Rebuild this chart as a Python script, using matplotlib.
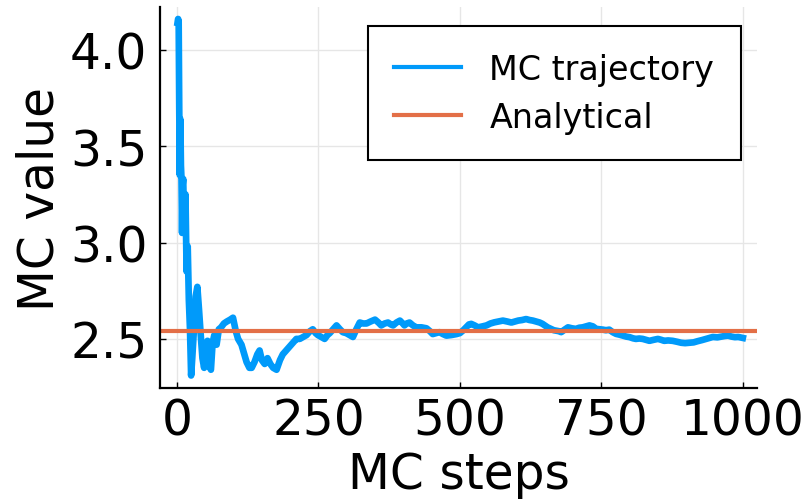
import matplotlib
matplotlib.use("Agg")
import matplotlib.pyplot as plt

# running MC estimate (step, value)
steps = [1, 2, 3, 4, 5, 6, 7, 8, 9, 10, 11, 13, 15, 17, 19, 21, 23, 25, 27, 30,
         33, 36, 39, 42, 45, 48, 51, 54, 57, 60, 63, 66, 70, 74, 78, 83, 88, 94, 99, 104,
         108, 114, 119, 123, 128, 132, 137, 142, 146, 150, 155, 160, 165, 170, 176, 182, 187, 193, 199, 205,
         211, 217, 223, 229, 235, 240, 245, 249, 255, 261, 266, 270, 276, 282, 288, 293, 299, 305, 311, 317,
         323, 329, 335, 342, 350, 356, 361, 367, 373, 378, 382, 388, 394, 399, 402, 406, 411, 417, 423, 432,
         441, 447, 452, 458, 464, 470, 476, 485, 494, 500, 506, 511, 516, 520, 526, 532, 540, 547, 554, 561,
         568, 576, 584, 591, 597, 603, 610, 617, 623, 629, 635, 641, 646, 650, 655, 661, 666, 670, 675, 679,
         685, 691, 698, 705, 711, 717, 723, 729, 735, 741, 747, 753, 758, 764, 770, 776, 782, 788, 794, 800,
         806, 811, 817, 823, 829, 835, 842, 850, 856, 861, 868, 876, 884, 891, 898, 906, 913, 920, 928, 935,
         941, 947, 955, 962, 968, 974, 980, 986, 992, 1000]
mc_values = [4.14, 4.16, 4.15, 3.70, 3.35, 3.64, 3.40, 3.33, 3.05, 3.30, 3.33, 3.05, 3.25, 2.85, 2.98, 2.70, 2.55, 2.31, 2.40, 2.55,
             2.72, 2.77, 2.65, 2.52, 2.40, 2.35, 2.46, 2.49, 2.36, 2.34, 2.48, 2.52, 2.47, 2.55, 2.56, 2.58, 2.59, 2.60, 2.61, 2.54,
             2.50, 2.47, 2.42, 2.38, 2.35, 2.35, 2.38, 2.42, 2.44, 2.39, 2.37, 2.40, 2.37, 2.35, 2.34, 2.39, 2.42, 2.44, 2.46, 2.48,
             2.50, 2.50, 2.51, 2.52, 2.54, 2.55, 2.53, 2.52, 2.51, 2.50, 2.52, 2.53, 2.55, 2.57, 2.55, 2.535, 2.53, 2.52, 2.51, 2.55,
             2.585, 2.58, 2.58, 2.59, 2.60, 2.585, 2.57, 2.58, 2.585, 2.575, 2.57, 2.585, 2.595, 2.58, 2.57, 2.58, 2.585, 2.57, 2.56, 2.56,
             2.555, 2.54, 2.525, 2.53, 2.535, 2.525, 2.517, 2.52, 2.525, 2.53, 2.545, 2.56, 2.575, 2.578, 2.57, 2.56, 2.565, 2.57, 2.58, 2.586,
             2.59, 2.595, 2.59, 2.585, 2.59, 2.595, 2.598, 2.603, 2.598, 2.595, 2.59, 2.585, 2.578, 2.57, 2.56, 2.552, 2.545, 2.543, 2.54, 2.535,
             2.548, 2.56, 2.555, 2.552, 2.558, 2.56, 2.565, 2.57, 2.565, 2.552, 2.55, 2.548, 2.545, 2.548, 2.535, 2.526, 2.522, 2.517, 2.512, 2.509,
             2.503, 2.50, 2.502, 2.50, 2.495, 2.49, 2.495, 2.50, 2.495, 2.49, 2.492, 2.49, 2.485, 2.48, 2.478, 2.48, 2.482, 2.488, 2.494, 2.50,
             2.505, 2.51, 2.508, 2.512, 2.515, 2.517, 2.512, 2.509, 2.51, 2.505]
analytical = 2.543

x_ticks = [0, 250, 500, 750, 1000]
y_ticks = [2.5, 3.0, 3.5, 4.0]

fig = plt.figure(figsize=(8.04, 5.02), dpi=100)
ax = fig.add_axes([0.199, 0.225, 0.7425, 0.759])

ax.plot(steps, mc_values, color="#009AFA", lw=4.8, label="MC trajectory", solid_joinstyle="round")
ax.axhline(analytical, color="#E36F47", lw=3, label="Analytical")

ax.set_xlim(-30, 1025)
ax.set_ylim(2.245, 4.222)
ax.set_xticks(x_ticks)
ax.set_yticks(y_ticks)
ax.set_yticklabels([f"{v:.1f}" for v in y_ticks])
ax.tick_params(direction="in", length=4, width=1, labelsize=35, pad=6)
ax.tick_params(axis="y", pad=9)
ax.grid(True, color="#e6e6e6", lw=1)
ax.set_axisbelow(True)
for s in ["top", "right"]:
    ax.spines[s].set_visible(False)
for s in ["left", "bottom"]:
    ax.spines[s].set_linewidth(1.6)

ax.set_xlabel("MC steps", fontsize=35, labelpad=4)
ax.set_ylabel("MC value", fontsize=35, labelpad=5)

leg = ax.legend(loc="upper right", bbox_to_anchor=(0.973, 0.950), borderaxespad=0,
                fontsize=24, fancybox=False, framealpha=1, edgecolor="black",
                handlelength=2.0, handletextpad=0.85, borderpad=0.8, labelspacing=0.45)
leg.get_frame().set_linewidth(1.5)
for h in leg.get_lines():
    h.set_linewidth(3)

fig.savefig("out.png", dpi=100)
